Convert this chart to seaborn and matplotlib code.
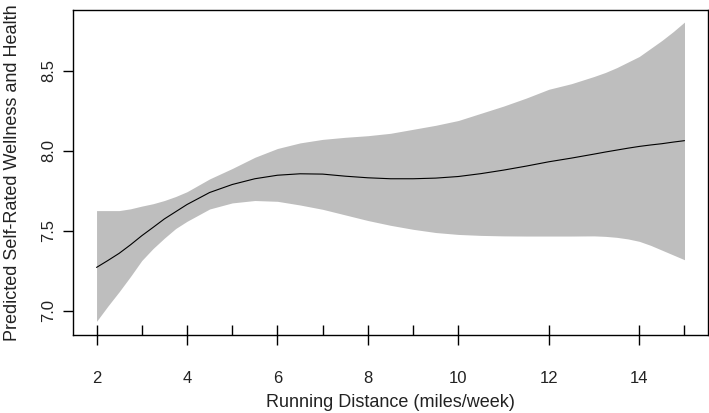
import numpy as np
import pandas as pd
import matplotlib
matplotlib.use("Agg")
import matplotlib.pyplot as plt
import seaborn as sns

# Values
distance = [2, 2.25, 2.5, 2.75, 3, 3.25, 3.5, 3.75, 4, 4.5, 5, 5.5, 6, 6.5,
            7, 7.5, 8, 8.5, 9, 9.5, 10, 10.5, 11, 11.5, 12, 12.5, 13, 13.25,
            13.5, 13.75, 14, 14.25, 14.5, 14.75, 15]
fit = [7.272, 7.315, 7.36, 7.413, 7.47, 7.522, 7.575, 7.62, 7.665, 7.74,
       7.79, 7.826, 7.848, 7.857, 7.855, 7.842, 7.832, 7.826, 7.826, 7.83,
       7.84, 7.858, 7.88, 7.905, 7.932, 7.955, 7.98, 7.993, 8.005, 8.017,
       8.028, 8.037, 8.045, 8.055, 8.064]
upper = [7.627, 7.627, 7.627, 7.638, 7.655, 7.67, 7.69, 7.715, 7.745, 7.825,
         7.89, 7.96, 8.015, 8.05, 8.072, 8.085, 8.095, 8.11, 8.135, 8.16,
         8.19, 8.235, 8.28, 8.33, 8.385, 8.42, 8.465, 8.49, 8.52, 8.555,
         8.59, 8.64, 8.69, 8.745, 8.805]
lower = [6.935, 7.03, 7.12, 7.215, 7.315, 7.39, 7.455, 7.515, 7.56, 7.637,
         7.675, 7.69, 7.685, 7.662, 7.635, 7.6, 7.565, 7.535, 7.51, 7.49,
         7.478, 7.472, 7.469, 7.468, 7.468, 7.468, 7.469, 7.466, 7.46, 7.45,
         7.435, 7.41, 7.38, 7.35, 7.32]
rug_values = [2, 3, 4, 5, 6, 7, 8, 9, 10, 12, 14, 15]
x_ticks = [2, 4, 6, 8, 10, 12, 14]
y_ticks = [7.0, 7.5, 8.0, 8.5]

df = pd.DataFrame({"distance": distance, "fit": fit, "upper": upper, "lower": lower})

sns.set_style("white")
plt.rcParams["font.family"] = ["Liberation Sans", "DejaVu Sans"]

fig = plt.figure(figsize=(7.09, 4.13), dpi=100)
ax = fig.add_axes([0.103, 0.189, 0.8956, 0.787])

# confidence band, fitted curve and rug of observed distances
ax.fill_between(df["distance"], df["lower"], df["upper"], color="#bebebe", lw=0)
sns.lineplot(data=df, x="distance", y="fit", color="black", lw=0.8, ax=ax)
sns.rugplot(x=rug_values, height=0.031, color="black", lw=1, ax=ax)

ax.set_xlim(1.48, 15.52)
ax.set_ylim(6.85, 8.881)
ax.set_xticks(x_ticks)
ax.set_yticks(y_ticks)
ax.set_xticklabels([str(v) for v in x_ticks])
ax.set_yticklabels([f"{v:.1f}" for v in y_ticks], rotation=90, va="center")
ax.tick_params(axis="both", direction="out", length=7, width=1, color="black",
               bottom=True, left=True, labelsize=12, labelcolor="#222222")
ax.tick_params(axis="x", pad=19)
ax.tick_params(axis="y", pad=5)

for s in ax.spines.values():
    s.set_color("black")
    s.set_linewidth(1)

ax.set_xlabel("Running Distance (miles/week)", fontsize=13, color="#222222", labelpad=6)
ax.set_ylabel("Predicted Self-Rated Wellness and Health", fontsize=13, color="#222222", labelpad=15)

fig.savefig("out.png", dpi=100)
